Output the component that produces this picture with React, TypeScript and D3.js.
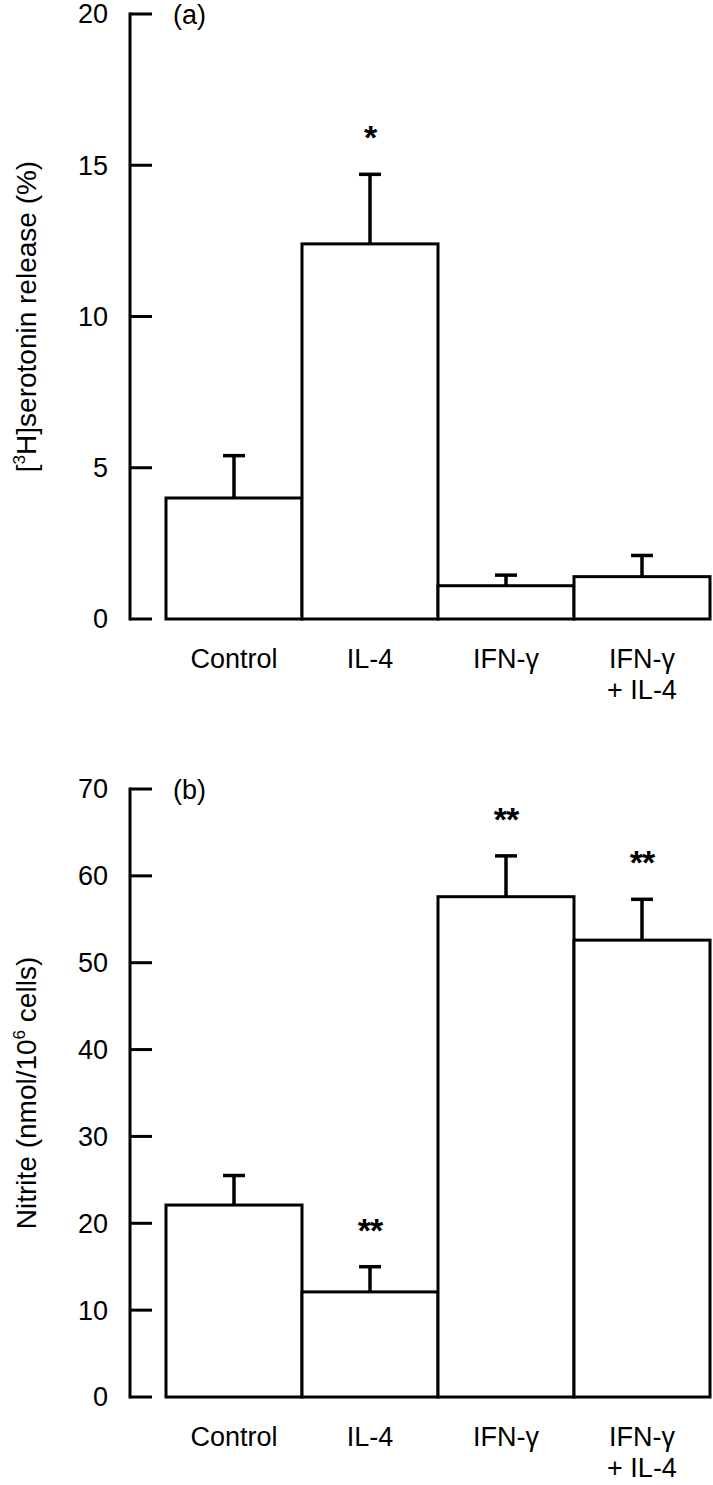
import React from "react";
import * as d3 from "d3";

const categories = ["Control", "IL-4", "IFN-γ", "IFN-γ|+ IL-4"];
const serotoninMeans = [4.0, 12.4, 1.1, 1.4];
const serotoninErrTop = [5.4, 14.7, 1.45, 2.1];
const serotoninStars = ["", "*", "", ""];
const serotoninTicks = [0, 5, 10, 15, 20];
const nitriteMeans = [22.1, 12.1, 57.6, 52.6];
const nitriteErrTop = [25.5, 15.0, 62.3, 57.3];
const nitriteStars = ["", "**", "**", "**"];
const nitriteTicks = [0, 10, 20, 30, 40, 50, 60, 70];

const FONT = "'Liberation Sans', Arial, Helvetica, sans-serif";

type PanelProps = {
  means: number[];
  errTop: number[];
  stars: string[];
  ticks: number[];
  yMax: number;
  top: number;
  bottom: number;
  letter: string;
  title: React.ReactNode;
};

function Panel({ means, errTop, stars, ticks, yMax, top, bottom, letter, title }: PanelProps) {
  const axisX = 130;
  const x = d3.scaleBand<string>().domain(categories).range([166, 710]).padding(0);
  const y = d3.scaleLinear().domain([0, yMax]).range([bottom, top]);
  const bw = x.bandwidth();
  const sw = 3;
  return (
    <g>
      {/* y axis */}
      <line x1={axisX} x2={axisX} y1={y(yMax) - sw / 2} y2={y(0) + sw / 2} stroke="#000" strokeWidth={sw} />
      {ticks.map((t) => (
        <g key={t}>
          <line x1={axisX} x2={axisX + 22} y1={y(t)} y2={y(t)} stroke="#000" strokeWidth={sw} />
          <text x={108} y={y(t)} dy="0.35em" textAnchor="end" fontSize={27} fontFamily={FONT}>
            {t}
          </text>
        </g>
      ))}
      <text x={173} y={top + 10} fontSize={27} fontFamily={FONT}>
        {letter}
      </text>
      {/* bars */}
      {categories.map((c, i) => {
        const x0 = x(c)!;
        const cx = x0 + bw / 2;
        return (
          <g key={c}>
            <rect x={x0} y={y(means[i])} width={bw} height={y(0) - y(means[i])} fill="#fff" stroke="#000" strokeWidth={sw} />
            <line x1={cx} x2={cx} y1={y(means[i])} y2={y(errTop[i])} stroke="#000" strokeWidth={3.5} />
            <line x1={cx - 11} x2={cx + 11} y1={y(errTop[i])} y2={y(errTop[i])} stroke="#000" strokeWidth={3.5} />
            {stars[i] && (
              <text x={cx} y={y(errTop[i]) - 25} textAnchor="middle" fontSize={34} fontWeight="bold" fontFamily={FONT} letterSpacing={-1}>
                {stars[i]}
              </text>
            )}
            {c.split("|").map((line, j) => (
              <text key={j} x={cx} y={bottom + 49 + j * 31} textAnchor="middle" fontSize={27} fontFamily={FONT}>
                {line}
              </text>
            ))}
          </g>
        );
      })}
      {/* y title */}
      <text
        transform={`translate(36,${(top + bottom) / 2}) rotate(-90)`}
        textAnchor="middle"
        fontSize={28}
        fontFamily={FONT}
      >
        {title}
      </text>
    </g>
  );
}

export default function App() {
  return (
    <svg width={713} height={1485} style={{ display: "block", position: "absolute", left: 0, top: 0, background: "#fff" }}>
      <rect width={713} height={1485} fill="#fff" />
      <Panel
        means={serotoninMeans}
        errTop={serotoninErrTop}
        stars={serotoninStars}
        ticks={serotoninTicks}
        yMax={20}
        top={14}
        bottom={619}
        letter="(a)"
        title={
          <>
            [<tspan fontSize={17} dy={-11}>3</tspan>
            <tspan dy={11}>H]serotonin release (%)</tspan>
          </>
        }
      />
      <Panel
        means={nitriteMeans}
        errTop={nitriteErrTop}
        stars={nitriteStars}
        ticks={nitriteTicks}
        yMax={70}
        top={789}
        bottom={1397}
        letter="(b)"
        title={
          <>
            Nitrite (nmol/10<tspan fontSize={17} dy={-11}>6</tspan>
            <tspan dy={11}> cells)</tspan>
          </>
        }
      />
    </svg>
  );
}
